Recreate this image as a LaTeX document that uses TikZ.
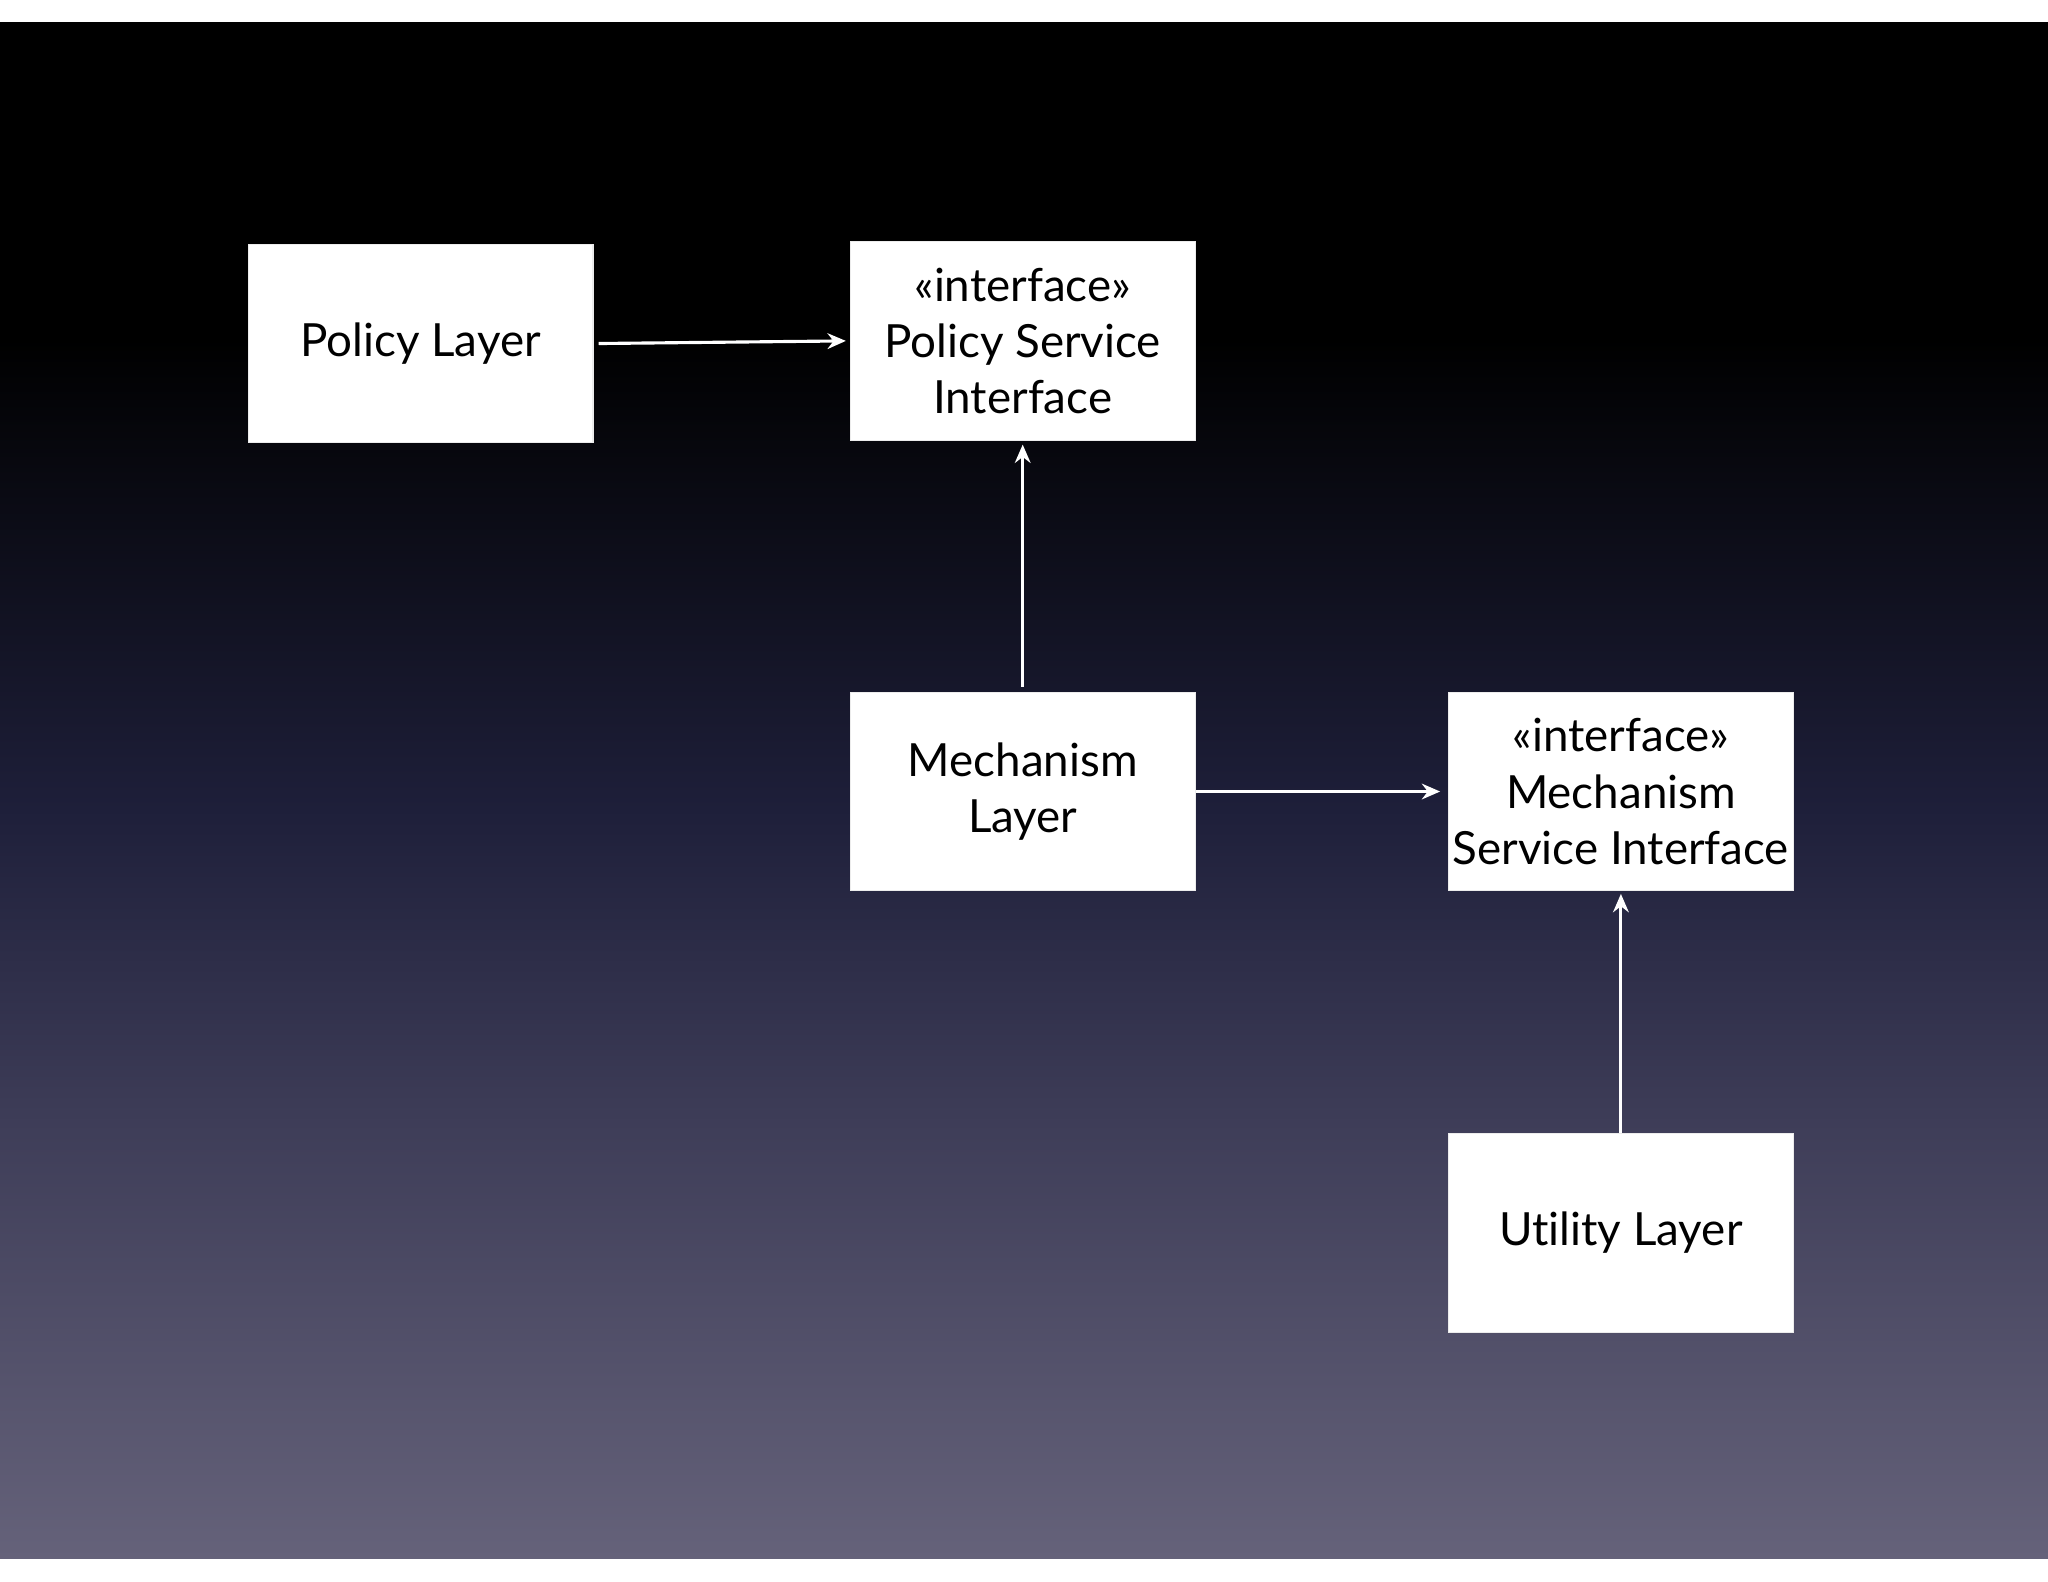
\documentclass[tikz,border=0pt]{standalone}
\usepackage{fontspec}
\setmainfont[Ligatures=NoCommon]{Lato}
\usetikzlibrary{arrows.meta}
\definecolor{bgbot}{HTML}{65627A}
\definecolor{bgmid}{HTML}{1E1F3A}
\definecolor{bgmid2}{HTML}{3E3D58}
\begin{document}
\begin{tikzpicture}[x=0.5pt,y=-0.5pt,
  box/.style={draw=white!85!gray,fill=white,minimum width=132pt,minimum height=76pt,align=center,font=\fontsize{17.5}{21.5}\selectfont,inner sep=0pt},
  conn/.style={draw=white,line width=1.2pt,-{Stealth[length=7pt,width=6pt]}}]
\useasboundingbox (0,0) rectangle (1568,1211);
\fill[white] (0,0) rectangle (1568,1211);
\fill[black] (0,17) rectangle (1568,260);
\shade[top color=black,bottom color=bgmid] (0,259) rectangle (1568,620);
\shade[top color=bgmid,bottom color=bgmid2] (0,619) rectangle (1568,860);
\shade[top color=bgmid2,bottom color=bgbot] (0,859) rectangle (1568,1193);
\node[box] (pl) at (322,263) {Policy Layer};
\node[box] (psi) at (783,261) {\textless\textless interface\textgreater\textgreater\\Policy Service\\Interface};
\node[box] (ml) at (783,606) {Mechanism\\Layer};
\node[box] (msi) at (1241,606) {\textless\textless interface\textgreater\textgreater\\Mechanism\\Service Interface};
\node[box] (ul) at (1241,944) {Utility Layer};
\draw[conn] ([xshift=2pt]pl.east) -- ([xshift=-1.5pt]psi.west);
\draw[conn] ([yshift=2pt]ml.north) -- ([yshift=-1.5pt]psi.south);
\draw[conn] (ml.east) -- ([xshift=-3pt]msi.west);
\draw[conn] (ul.north) -- ([yshift=-1pt]msi.south);
\end{tikzpicture}
\end{document}
